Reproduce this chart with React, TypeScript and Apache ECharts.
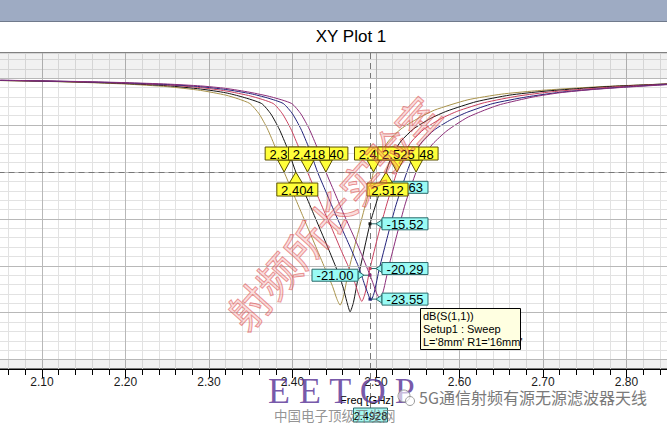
import React, { useEffect, useRef } from 'react';
import * as echarts from 'echarts';

// ---------- data ----------
const xMin = 2.0;
const xMax = 2.9;
const yMin = -31;
const yMax = 2.69;
const majorY = [-30, -25, -20, -15, -10, -5, 0];

const curve1 = [[2.05,-0.25],[2.10,-0.33],[2.15,-0.45],[2.20,-0.62],[2.25,-0.9],[2.29,-1.3],[2.32,-1.8],[2.335,-2.2],[2.349,-2.7],[2.36,-3.8],[2.37,-5.4],[2.38,-7.5],[2.39,-10.0],[2.40,-12.1],[2.41,-14.2],[2.42,-16.3],[2.43,-18.4],[2.44,-20.5],[2.448,-22.2],[2.453,-23.5],[2.457,-24.2],[2.461,-23.3],[2.467,-20.6],[2.477,-17.0],[2.487,-13.6],[2.4928,-11.63],[2.497,-10.0],[2.505,-8.1],[2.515,-6.7],[2.53,-5.4],[2.55,-4.3],[2.57,-3.4],[2.61,-2.3],[2.65,-1.7],[2.69,-1.35],[2.73,-1.1],[2.78,-0.85],[2.85,-0.6]];
const curve2 = [[2.05,-0.24],[2.10,-0.31],[2.15,-0.42],[2.20,-0.57],[2.25,-0.8],[2.29,-1.15],[2.32,-1.55],[2.34,-2.0],[2.363,-2.7],[2.374,-3.8],[2.384,-5.4],[2.394,-7.5],[2.404,-10.0],[2.414,-12.1],[2.424,-14.2],[2.434,-16.3],[2.444,-18.4],[2.454,-20.6],[2.461,-22.4],[2.465,-23.8],[2.469,-24.9],[2.473,-23.9],[2.479,-21.1],[2.4928,-15.52],[2.501,-13.1],[2.512,-10.0],[2.52,-8.1],[2.53,-6.7],[2.545,-5.4],[2.565,-4.3],[2.585,-3.5],[2.62,-2.5],[2.66,-1.8],[2.70,-1.4],[2.74,-1.12],[2.78,-0.88],[2.85,-0.6]];
const curve3 = [[2.05,-0.23],[2.10,-0.3],[2.15,-0.4],[2.20,-0.53],[2.25,-0.72],[2.29,-1.0],[2.32,-1.35],[2.35,-1.9],[2.377,-2.7],[2.388,-3.8],[2.398,-5.4],[2.408,-7.5],[2.418,-10.0],[2.428,-12.1],[2.438,-14.2],[2.448,-16.2],[2.458,-18.3],[2.468,-20.3],[2.475,-21.9],[2.479,-23.0],[2.483,-23.8],[2.487,-22.9],[2.4928,-20.29],[2.503,-16.6],[2.513,-13.4],[2.525,-10.0],[2.533,-8.1],[2.543,-6.7],[2.558,-5.4],[2.578,-4.3],[2.598,-3.5],[2.63,-2.6],[2.67,-1.9],[2.71,-1.45],[2.75,-1.15],[2.79,-0.9],[2.85,-0.62]];
const curve4 = [[2.05,-0.22],[2.10,-0.29],[2.15,-0.38],[2.20,-0.5],[2.25,-0.67],[2.29,-0.9],[2.32,-1.2],[2.35,-1.65],[2.37,-2.1],[2.389,-2.7],[2.40,-3.8],[2.41,-5.4],[2.42,-7.5],[2.43,-10.0],[2.44,-12.1],[2.45,-14.2],[2.46,-16.2],[2.47,-18.2],[2.48,-20.3],[2.486,-21.9],[2.4928,-23.55],[2.494,-23.7],[2.498,-22.8],[2.504,-20.3],[2.514,-16.8],[2.524,-13.5],[2.537,-10.0],[2.545,-8.2],[2.555,-6.8],[2.57,-5.5],[2.59,-4.4],[2.61,-3.6],[2.64,-2.7],[2.68,-2.0],[2.72,-1.5],[2.76,-1.18],[2.80,-0.92],[2.85,-0.65]];
const curve5 = [[2.05,-0.21],[2.10,-0.28],[2.15,-0.36],[2.20,-0.47],[2.25,-0.62],[2.29,-0.82],[2.32,-1.08],[2.349,-1.5],[2.375,-2.0],[2.399,-2.7],[2.41,-3.8],[2.42,-5.4],[2.43,-7.5],[2.44,-10.0],[2.45,-12.1],[2.46,-14.2],[2.47,-16.2],[2.48,-18.2],[2.4928,-21.0],[2.497,-22.0],[2.501,-23.0],[2.505,-23.5],[2.509,-22.6],[2.515,-20.2],[2.525,-16.7],[2.535,-13.4],[2.548,-10.0],[2.556,-8.4],[2.568,-7.0],[2.585,-5.6],[2.609,-4.2],[2.63,-3.4],[2.649,-2.8],[2.688,-2.0],[2.72,-1.55],[2.76,-1.2],[2.80,-0.95],[2.85,-0.68]];
const curves = [curve1, curve2, curve3, curve4, curve5];

// -10 dB crossing markers (drawing order)
const crossLevel = -10;
const crossFreqs = [2.390, 2.440, 2.418, 2.497, 2.548, 2.525, 2.404, 2.512];
// marker line
const markerFreq = 2.4928;
const markerValues = [-11.63, -15.52, -20.29, -23.55, -21.0];
const markerCurve = [0, 1, 2, 3, 4];

// ---------- styles / layout ----------
const FONT = '"Liberation Sans", Arial, sans-serif';
const CJK = '"Noto Sans CJK SC", sans-serif';
const curveColors = ['#a8924a', '#141414', '#c8405e', '#22227a', '#8a2c78'];
const crossBelow = [false, false, false, false, false, false, true, true];
const markerLeft = [false, false, false, false, true];

export default function App() {
  const ref = useRef<HTMLDivElement>(null);
  useEffect(() => {
    if (!ref.current) return;
    const chart = echarts.init(ref.current, undefined, { renderer: 'svg' });

    const curveSeries = curves.map((c, i) => ({
      type: 'line',
      name: 'c' + i,
      data: c,
      showSymbol: false,
      symbol: 'none',
      smooth: 0.2,
      lineStyle: { color: curveColors[i], width: 1 },
      itemStyle: { color: curveColors[i] },
      z: 3,
      silent: true,
    }));

    const option: any = {
      animation: false,
      backgroundColor: '#ffffff',
      title: {
        text: 'XY Plot 1',
        left: 346,
        top: 23,
        textAlign: 'center',
        textStyle: { fontFamily: FONT, fontSize: 17, fontWeight: 'normal', color: '#000' },
      },
      grid: {
        left: -41.5, top: 53, width: 751.5, height: 316,
        containLabel: false, outerBoundsMode: 'none',
        show: true, borderColor: '#000', borderWidth: 1, backgroundColor: 'transparent',
      },
      xAxis: {
        type: 'value', min: xMin, max: xMax, interval: 0.1,
        axisLine: { onZero: false, lineStyle: { color: '#000', width: 1 } },
        axisTick: { length: 9, lineStyle: { color: '#000' } },
        minorTick: { show: true, splitNumber: 5, length: 6, lineStyle: { color: '#000' } },
        axisLabel: {
          formatter: (v: number) => v.toFixed(2), color: '#1a1a1a', fontSize: 12, fontFamily: FONT, margin: 7,
          hideOverlap: false, showMinLabel: false, showMaxLabel: false,
        },
        splitLine: { show: true, lineStyle: { color: '#b8b8b8', width: 1 } },
        minorSplitLine: { show: true, lineStyle: { color: '#e2e2e2', width: 1 } },
      },
      yAxis: {
        type: 'value', min: yMin, max: yMax, interval: 1,
        axisLine: { show: false }, axisTick: { show: false }, axisLabel: { show: false },
        splitLine: { show: true, lineStyle: { color: '#e2e2e2', width: 1 } },
      },
      graphic: {
        elements: [
          { type: 'rect', shape: { x: 0, y: 0, width: 667, height: 21 }, style: { fill: '#9eabc3' }, z: -1 },
          { type: 'line', shape: { x1: 0, y1: 21.5, x2: 667, y2: 21.5 }, style: { stroke: '#707a8c', lineWidth: 1 }, z: -1 },
          { type: 'text', x: 367, y: 400, style: { text: 'Freq [GHz]', font: '11px ' + FONT, fill: '#000', align: 'center', verticalAlign: 'middle' }, z: 10 },
          // legend box
          { type: 'rect', shape: { x: 420.5, y: 308.5, width: 100, height: 41 }, style: { fill: '#ffffe1', stroke: '#000', lineWidth: 1 }, z: 20 },
          { type: 'text', x: 423, y: 315.5, style: { text: 'dB(S(1,1))', font: '11px ' + FONT, fill: '#000', verticalAlign: 'middle' }, z: 21 },
          { type: 'text', x: 423, y: 328.5, style: { text: 'Setup1 : Sweep', font: '11px ' + FONT, fill: '#000', verticalAlign: 'middle' }, z: 21 },
          { type: 'text', x: 423, y: 342, style: { text: "L='8mm' R1='16mm'", font: '11px ' + FONT, fill: '#000', verticalAlign: 'middle' }, z: 21 },
          // watermarks
          { type: 'text', x: 332, y: 212, rotation: 0.84, style: { text: '射频所长实验室', font: '42px ' + CJK, fill: 'rgba(240,120,120,0.25)', stroke: 'rgba(215,60,60,0.55)', lineWidth: 1, align: 'center', verticalAlign: 'middle' }, z: 100 },
          { type: 'text', x: 268, y: 390.5, style: { text: 'E E T O P', font: '36px "Liberation Serif", serif', fill: 'rgba(95,60,155,0.85)', verticalAlign: 'middle' }, z: 100 },
          { type: 'text', x: 274, y: 414.5, style: { text: '中国电子顶级开发网', font: '13.5px ' + CJK, fill: 'rgba(120,120,120,0.8)', verticalAlign: 'middle' }, z: 100 },
          { type: 'circle', shape: { cx: 404, cy: 396, r: 6 }, style: { fill: 'rgba(255,255,255,0.6)', stroke: '#9a9a9a', lineWidth: 1 }, z: 100 },
          { type: 'circle', shape: { cx: 410, cy: 401, r: 4.5 }, style: { fill: 'rgba(255,255,255,0.6)', stroke: '#9a9a9a', lineWidth: 1 }, z: 100 },
          { type: 'text', x: 419, y: 397, style: { text: '5G通信射频有源无源滤波器天线', font: '16px ' + CJK, fill: '#7a7a7a', stroke: '#ffffff', lineWidth: 2, verticalAlign: 'middle' }, z: 100 },
        ],
      },
      series: [
        {
          type: 'line', data: [], z: 1, silent: true,
          markArea: {
            silent: true,
            itemStyle: { color: 'rgba(0,0,0,0.055)' },
            data: [[{ yAxis: 0 }, { yAxis: yMax }], [{ yAxis: yMin }, { yAxis: -30 }]],
          },
          markLine: {
            silent: true, symbol: ['none', 'none'], label: { show: false },
            lineStyle: { color: '#b8b8b8', type: 'solid', width: 1 },
            data: majorY.map((v) => ({ yAxis: v })),
          },
        },
        ...curveSeries,
        {
          type: 'line', data: [], z: 4, silent: true,
          markLine: {
            silent: true, symbol: ['none', 'none'], label: { show: false },
            lineStyle: { color: '#777777', type: [6, 4], width: 1 },
            data: [{ yAxis: crossLevel }],
          },
        },
        {
          // vertical marker line + x-value box
          type: 'custom', coordinateSystem: 'cartesian2d', z: 4, silent: true, clip: false,
          data: [[markerFreq, yMin]],
          renderItem: (params: any, api: any) => {
            const top = api.coord([api.value(0), yMax]);
            const bot = api.coord([api.value(0), yMin]);
            const px = Math.round(top[0]) + 0.5;
            const by = bot[1] + 39;
            return {
              type: 'group',
              children: [
                { type: 'line', shape: { x1: px, y1: top[1], x2: px, y2: by }, style: { stroke: '#777777', lineWidth: 1, lineDash: [6, 4] } },
                { type: 'rect', shape: { x: px - 17, y: by, width: 34, height: 14 }, style: { fill: '#a6f6f0', stroke: '#2a6a6a', lineWidth: 1 } },
                { type: 'text', style: { text: api.value(0).toFixed(4), x: px, y: by + 7.5, font: '11px ' + FONT, fill: '#000', align: 'center', verticalAlign: 'middle' } },
              ],
            };
          },
        },
        {
          // value markers on the marker line
          type: 'custom', coordinateSystem: 'cartesian2d', z: 5, silent: true, clip: false,
          data: markerValues.map((v) => [markerFreq, v]),
          renderItem: (params: any, api: any) => {
            const i = params.dataIndex;
            const p = api.coord([api.value(0), api.value(1)]);
            const px = p[0], py = p[1];
            const left = markerLeft[i];
            const w = 46, h = 12;
            const bx = left ? px - 58 : px + 12;
            const by = py - h / 2;
            const tipX = left ? bx + w + 6 : bx - 6;
            const edge = left ? bx + w : bx;
            return {
              type: 'group',
              children: [
                { type: 'line', shape: { x1: px, y1: py, x2: tipX, y2: py }, style: { stroke: '#2a6a6a', lineWidth: 1 } },
                { type: 'polygon', shape: { points: [[edge, py - 4], [edge, py + 4], [tipX, py]] }, style: { fill: '#99fbf5', stroke: '#2a6a6a', lineWidth: 1 } },
                { type: 'rect', shape: { x: bx, y: by, width: w, height: h }, style: { fill: '#99fbf5', stroke: '#2a6a6a', lineWidth: 1 } },
                { type: 'text', style: { text: api.value(1).toFixed(2), x: bx + w / 2, y: by + h / 2 + 0.5, font: '13px ' + FONT, fill: '#000', align: 'center', verticalAlign: 'middle' } },
                { type: 'rect', shape: { x: px - 1.5, y: py - 1.5, width: 3, height: 3 }, style: { fill: curveColors[markerCurve[i]] } },
              ],
            };
          },
        },
        {
          // -10 dB crossing markers
          type: 'custom', coordinateSystem: 'cartesian2d', z: 6, silent: true, clip: false,
          data: crossFreqs.map((f) => [f, crossLevel]),
          renderItem: (params: any, api: any) => {
            const i = params.dataIndex;
            const p = api.coord([api.value(0), api.value(1)]);
            const px = p[0], py = p[1];
            const below = crossBelow[i];
            const w = 41, h = 13;
            const bx = px - 19;
            const by = below ? py + 11 : py - 12 - h;
            const base = below ? by : by + h;
            const fill = '#ffff3a';
            const stroke = '#5c5200';
            return {
              type: 'group',
              children: [
                { type: 'polygon', shape: { points: [[px - 6.5, base], [px + 6.5, base], [px, py]] }, style: { fill, stroke, lineWidth: 1 } },
                { type: 'rect', shape: { x: bx, y: by, width: w, height: h }, style: { fill, stroke, lineWidth: 1 } },
                { type: 'text', style: { text: api.value(0).toFixed(3), x: bx + w / 2, y: by + h / 2 + 0.5, font: '13px ' + FONT, fill: '#000', align: 'center', verticalAlign: 'middle' } },
              ],
            };
          },
        },
      ],
    };
    chart.setOption(option);
    return () => chart.dispose();
  }, []);
  return <div ref={ref} style={{ position: 'fixed', left: 0, top: 0, width: 667, height: 427, background: '#fff' }} />;
}
